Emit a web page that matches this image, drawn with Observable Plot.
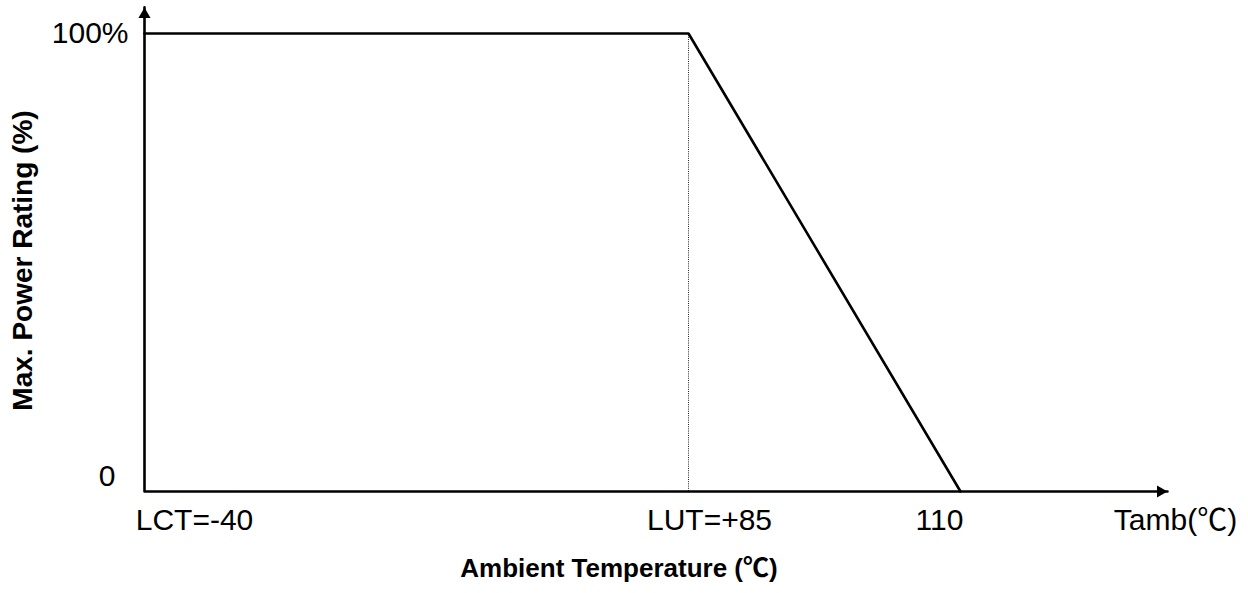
<!DOCTYPE html>
<html>
<head>
<meta charset="utf-8">
<script src="https://cdn.jsdelivr.net/npm/d3@7"></script>
<script src="https://cdn.jsdelivr.net/npm/@observablehq/plot@0.6"></script>
<style>
  html, body { margin: 0; padding: 0; background: #fff; }
  #chart svg { display: block; }
</style>
</head>
<body>
<div id="chart"></div>
<script>
// ---- data ----
const temps = [-40, 85, 110];          // °C: LCT, LUT, zero-power point
const power = [100, 100, 0];           // % of max power rating
const xTickValues = [-40, 85, 110];
const xTickLabels = ["LCT=-40", "LUT=+85", "110"];
const yTickValues = [100, 0];
const yTickLabels = ["100%", "0"];
const lutValue = 85;
const xUnitLabel = "Tamb(℃)";
const xTitle = "Ambient Temperature (℃)";
const yTitle = "Max. Power Rating (%)";
const xAxisEnd = 130;     // schematic end of the temperature axis (arrow tip)
const yAxisTop = 105.7;   // schematic end of the power axis (arrow tip)

// ---- layout / style (kept apart from data) ----
const W = 1248, H = 593;
const FONT = "'Liberation Sans', Arial, 'Noto Sans CJK SC', sans-serif";
const xTickDx = [50, 21, -21];
const yTickDx = [-16, -29];
const yTickDy = [0, -15];

const curve = temps.map((t, i) => ({t, p: power[i]}));
const axisPath = [
  {t: temps[0], p: yAxisTop},
  {t: temps[0], p: 0},
  {t: xAxisEnd, p: 0}
];

const marks = [
  // dotted guide at LUT
  Plot.ruleX([lutValue], {y1: 0, y2: power[1], stroke: "#222", strokeWidth: 1, strokeDasharray: "1,1.2"}),
  // axes
  Plot.line(axisPath, {x: "t", y: "p", stroke: "#000", strokeWidth: 2.6}),
  Plot.dot([{t: xAxisEnd, p: 0}], {x: "t", y: "p", symbol: "triangle", r: 4.5, fill: "#000", stroke: null, rotate: 90, dx: -7}),
  Plot.dot([{t: temps[0], p: yAxisTop}], {x: "t", y: "p", symbol: "triangle", r: 4.5, fill: "#000", stroke: null, dy: 7}),
  // derating curve
  Plot.line(curve, {x: "t", y: "p", stroke: "#000", strokeWidth: 2.6, strokeLinejoin: "miter"}),
];

// x tick labels
xTickValues.forEach((v, i) => {
  marks.push(Plot.text([xTickLabels[i]], {
    x: () => v, y: () => 0, text: d => d,
    fontSize: 30, fill: "#000", textAnchor: "middle", dx: xTickDx[i], dy: 29
  }));
});
// x unit label at end of axis
marks.push(Plot.text([xUnitLabel], {
  x: () => xAxisEnd, y: () => 0, text: d => d,
  fontSize: 30, fill: "#000", textAnchor: "middle", dx: 8, dy: 29
}));
// y tick labels
yTickValues.forEach((v, i) => {
  marks.push(Plot.text([yTickLabels[i]], {
    x: () => temps[0], y: () => v, text: d => d,
    fontSize: 30, fill: "#000", textAnchor: "end", dx: yTickDx[i], dy: yTickDy[i]
  }));
});
// axis titles
marks.push(Plot.text([xTitle], {
  frameAnchor: "bottom", text: d => d, fontSize: 26, fontWeight: "bold",
  fill: "#000", textAnchor: "middle", dx: -37, dy: 85
}));
marks.push(Plot.text([yTitle], {
  frameAnchor: "left", text: d => d, fontSize: 28, fontWeight: "bold",
  fill: "#000", textAnchor: "middle", rotate: -90, dx: -121, dy: -2
}));

const chart = Plot.plot({
  width: W,
  height: H,
  marginLeft: 144,
  marginRight: W - 1167,
  marginTop: 33,
  marginBottom: H - 491,
  style: {fontFamily: FONT, background: "#fff", overflow: "visible"},
  x: {type: "linear", domain: [-40, 85, 110, xAxisEnd], range: [144, 688, 960, 1167], axis: null},
  y: {domain: [0, 100], axis: null},
  marks
});
document.getElementById("chart").appendChild(chart);
</script>
</body>
</html>
